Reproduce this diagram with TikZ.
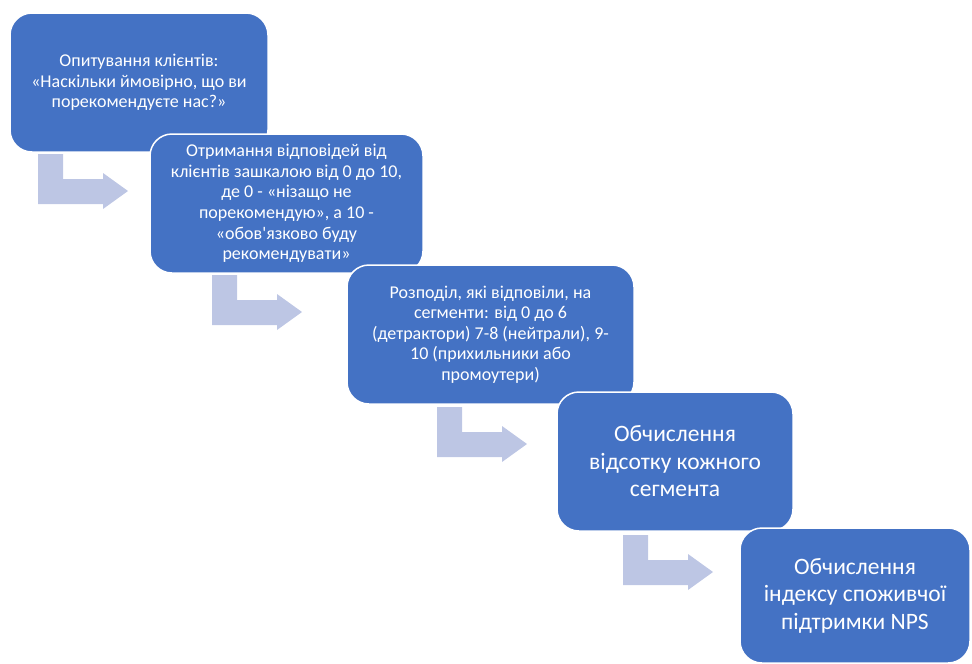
\documentclass[tikz,border=0pt]{standalone}
\usepackage{fontspec}
\setmainfont{Carlito}[Ligatures=TeXOff]
\definecolor{boxblue}{RGB}{68,114,196}
\definecolor{arrowblue}{RGB}{189,198,228}
\tikzset{
  stepbox/.style={rectangle, rounded corners=22pt, fill=boxblue, draw=white, line width=1.5pt,
    text=white, align=center, inner sep=0pt},
  smalltext/.style={font=\fontsize{18}{20.6}\selectfont},
  bigtext/.style={font=\fontsize{23.5}{27.5}\selectfont},
  bentarrow/.pic={\fill[arrowblue] (0,0) -- (25,0) -- (25,25) -- (65,25) -- (65,19) -- (90,37) -- (65,55) -- (65,50) -- (0,50) -- cycle;}
}
\begin{document}
\begin{tikzpicture}[x=1pt,y=-1pt]
\useasboundingbox (0,0) rectangle (972,664);
\pic (a1) at (38,154) {bentarrow};
\pic (a2) at (212,275) {bentarrow};
\pic (a3) at (437,407) {bentarrow};
\pic (a4) at (623,535) {bentarrow};
\node[stepbox, smalltext, minimum width=258pt, minimum height=139pt] (b1) at (139,82.5)
  {Опитування клієнтів:\\«Наскільки ймовірно, що ви\\порекомендуєте нас?»};
\node[stepbox, smalltext, minimum width=273pt, minimum height=139pt] (b2) at (286.5,203.5)
  {Отримання відповідей від\\клієнтів зашкалою від 0 до 10,\\де 0 - «нізащо не\\порекомендую», а 10 -\\«обов'язково буду\\рекомендувати»};
\node[stepbox, smalltext, minimum width=287pt, minimum height=139pt] (b3) at (490.5,334.5)
  {Розподіл, які відповіли, на\\сегменти: від 0 до 6\\(детрактори) 7-8 (нейтрали), 9-\\10 (прихильники або\\промоутери)};
\node[stepbox, bigtext, minimum width=236pt, minimum height=139pt] (b4) at (675,461.5)
  {Обчислення\\відсотку кожного\\сегмента};
\node[stepbox, bigtext, minimum width=230pt, minimum height=135pt] (b5) at (855,595.5)
  {Обчислення\\індексу споживчої\\підтримки NPS};
\end{tikzpicture}
\end{document}
